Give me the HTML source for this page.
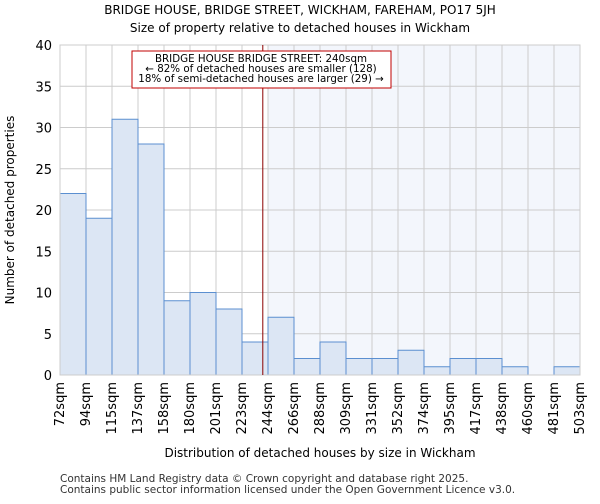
<!DOCTYPE html>
<html><head><meta charset="utf-8"><style>
body{margin:0;background:#fff;font-family:"DejaVu Sans","Liberation Sans",sans-serif;}
</style></head><body>
<svg width="600" height="500" xmlns="http://www.w3.org/2000/svg" font-family="DejaVu Sans, Liberation Sans, sans-serif">
<text x="300" y="14" text-anchor="middle" font-size="12">BRIDGE HOUSE, BRIDGE STREET, WICKHAM, FAREHAM, PO17 5JH</text>
<text x="300" y="32" text-anchor="middle" font-size="12">Size of property relative to detached houses in Wickham</text>
<g id="plot"></g>
<text x="14" y="210" text-anchor="middle" font-size="12" transform="rotate(-90 14 210)">Number of detached properties</text>
<text x="320" y="457" text-anchor="middle" font-size="12">Distribution of detached houses by size in Wickham</text>
<text x="60" y="482" font-size="10.5" fill="#333">Contains HM Land Registry data © Crown copyright and database right 2025.</text>
<text x="60" y="493" font-size="10.5" fill="#333">Contains public sector information licensed under the Open Government Licence v3.0.</text>
</svg>
<script>
const binLabels=["72sqm","94sqm","115sqm","137sqm","158sqm","180sqm","201sqm","223sqm","244sqm","266sqm","288sqm","309sqm","331sqm","352sqm","374sqm","395sqm","417sqm","438sqm","460sqm","481sqm","503sqm"];
const counts=[22,19,31,28,9,10,8,4,7,2,4,2,2,3,1,2,2,1,0,1];
const yTicks=[0,5,10,15,20,25,30,35,40];
const propertyIndex=7.8;
const ns="http://www.w3.org/2000/svg";
const L=60,R=580,T=45,B=375,yMax=40;
const n=counts.length,bw=(R-L)/n;
const xs=i=>L+i*bw, ys=v=>B-(v/yMax)*(B-T);
const g=document.getElementById('plot');
function mk(t,a){const e=document.createElementNS(ns,t);for(const k in a)e.setAttribute(k,a[k]);g.appendChild(e);return e;}
let sh=mk('rect',{x:xs(Math.ceil(propertyIndex)),y:T,width:R-xs(Math.ceil(propertyIndex)),height:B-T,fill:'#eef2fb',opacity:0.7});


for(let i=0;i<=n;i++){let l=mk('line',{x1:xs(i),x2:xs(i),y1:T,y2:B,stroke:'#ccc'});

}
yTicks.forEach(v=>{let l=mk('line',{x1:L,x2:R,y1:ys(v),y2:ys(v),stroke:'#ccc'});


let t=mk('text',{x:L-8,y:ys(v)+5,'text-anchor':'end','font-size':13});t.textContent=v;

});
counts.forEach((c,i)=>{if(c<=0)return;let r=mk('rect',{x:xs(i),y:ys(c),width:bw,height:B-ys(c),fill:'#dce6f4',stroke:'#5b8fd0','stroke-width':1});

});
binLabels.forEach((s,i)=>{let x=xs(i)+4,y=382;let t=mk('text',{x:x,y:y,'text-anchor':'end','font-size':13,transform:`rotate(-90 ${x} ${y})`});t.textContent=s;

});
let ax=mk('rect',{x:L,y:T,width:R-L,height:B-T,fill:'none',stroke:'#ccc'});


const px=xs(propertyIndex);
let ml=mk('line',{x1:px,x2:px,y1:T,y2:B,stroke:'#8b0000','stroke-width':1});


let box=mk('rect',{x:132,y:51,width:259,height:37,fill:'#fff',stroke:'#c00000'});


["BRIDGE HOUSE BRIDGE STREET: 240sqm","← 82% of detached houses are smaller (128)","18% of semi-detached houses are larger (29) →"].forEach((s,i)=>{let t=mk('text',{x:261,y:62+i*10,'text-anchor':'middle','font-size':10.3});t.textContent=s;

});
</script>
</body></html>
